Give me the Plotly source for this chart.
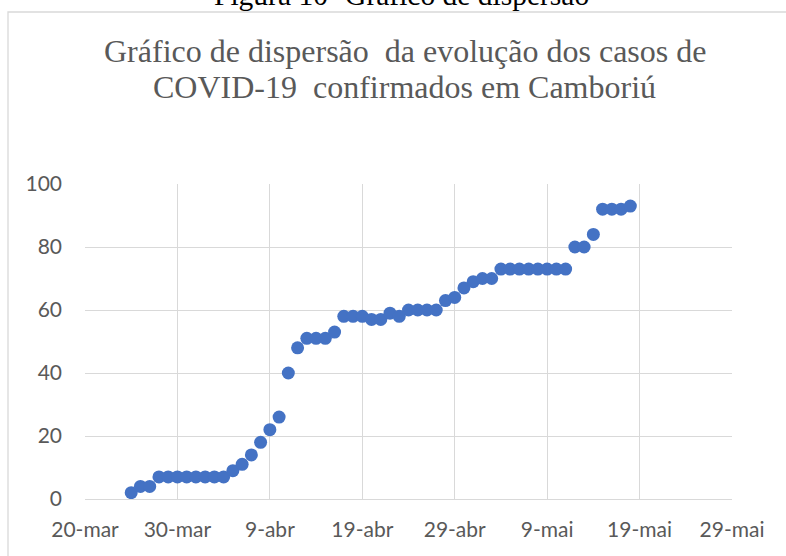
import plotly.graph_objects as go

dates = [
    "2020-03-25", "2020-03-26", "2020-03-27", "2020-03-28", "2020-03-29",
    "2020-03-30", "2020-03-31", "2020-04-01", "2020-04-02", "2020-04-03",
    "2020-04-04", "2020-04-05", "2020-04-06", "2020-04-07", "2020-04-08",
    "2020-04-09", "2020-04-10", "2020-04-11", "2020-04-12", "2020-04-13",
    "2020-04-14", "2020-04-15", "2020-04-16", "2020-04-17", "2020-04-18",
    "2020-04-19", "2020-04-20", "2020-04-21", "2020-04-22", "2020-04-23",
    "2020-04-24", "2020-04-25", "2020-04-26", "2020-04-27", "2020-04-28",
    "2020-04-29", "2020-04-30", "2020-05-01", "2020-05-02", "2020-05-03",
    "2020-05-04", "2020-05-05", "2020-05-06", "2020-05-07", "2020-05-08",
    "2020-05-09", "2020-05-10", "2020-05-11", "2020-05-12", "2020-05-13",
    "2020-05-14", "2020-05-15", "2020-05-16", "2020-05-17", "2020-05-18",
]
casos = [
    2, 4, 4, 7, 7,
    7, 7, 7, 7, 7,
    7, 9, 11, 14, 18,
    22, 26, 40, 48, 51,
    51, 51, 53, 58, 58,
    58, 57, 57, 59, 58,
    60, 60, 60, 60, 63,
    64, 67, 69, 70, 70,
    73, 73, 73, 73, 73,
    73, 73, 73, 80, 80,
    84, 92, 92, 92, 93,
]
x_tickvals = ["2020-03-20", "2020-03-30", "2020-04-09", "2020-04-19",
              "2020-04-29", "2020-05-09", "2020-05-19", "2020-05-29"]
x_ticktext = ["20-mar", "30-mar", "9-abr", "19-abr", "29-abr", "9-mai", "19-mai", "29-mai"]
y_tickvals = [0, 20, 40, 60, 80, 100]
title_lines = ["Gráfico de dispersão \u00a0da evolução dos casos de",
               "COVID-19 \u00a0confirmados em Camboriú"]
caption = "Figura 10- Gráfico de dispersão"

W, H = 786, 556
L, R, T, B = 85, 54, 184, 57
ph = H - T - B
pw = W - L - R


def px_x(x):
    return (x - L) / pw


def px_y(y):
    return (H - B - y) / ph


fig = go.Figure()
fig.add_trace(go.Scatter(
    x=dates, y=casos, mode="markers",
    marker=dict(color="#4472C4", size=13, line=dict(width=0)),
    showlegend=False,
))

grid = "#D9D9D9"
tickfont = dict(family="Lato", size=21, color="#595959")
title_font = dict(family="Liberation Serif", size=32, color="#595959")

annotations = [
    dict(text=title_lines[0], xref="paper", yref="paper",
         x=px_x(405), y=px_y(51), xanchor="center", yanchor="middle",
         showarrow=False, font=title_font),
    dict(text=title_lines[1], xref="paper", yref="paper",
         x=px_x(404), y=px_y(87), xanchor="center", yanchor="middle",
         showarrow=False, font=title_font),
    dict(text=caption, xref="paper", yref="paper",
         x=px_x(401), y=px_y(-5), xanchor="center", yanchor="middle",
         showarrow=False,
         font=dict(family="Liberation Serif", size=29.5, color="black")),
]

fig.update_layout(
    width=W, height=H,
    margin=dict(l=L, r=R, t=T, b=B, autoexpand=False),
    paper_bgcolor="white", plot_bgcolor="white",
    xaxis=dict(
        type="date",
        range=["2020-03-20", "2020-05-29"],
        tickmode="array", tickvals=x_tickvals, ticktext=x_ticktext,
        showgrid=True, gridcolor=grid, gridwidth=1.3,
        showline=True, linecolor=grid, linewidth=1.3,
        zeroline=False, ticks="", tickfont=tickfont,
        ticklabelstandoff=12, automargin=False,
    ),
    yaxis=dict(
        range=[0, 100],
        tickmode="array", tickvals=y_tickvals,
        showgrid=True, gridcolor=grid, gridwidth=1.3,
        showline=False, zeroline=False, ticks="", tickfont=tickfont,
        ticklabelstandoff=22, automargin=False,
    ),
    shapes=[dict(
        type="rect", xref="paper", yref="paper",
        x0=px_x(8), x1=px_x(800),
        y0=px_y(600), y1=px_y(12),
        line=dict(color="#D9D9D9", width=1.3), fillcolor="rgba(0,0,0,0)",
        layer="below",
    )],
    annotations=annotations,
)

fig.write_html(
    "out.html",
    config={"displayModeBar": False},
    post_script="document.body.style.margin='0';document.body.style.overflow='hidden';",
)
